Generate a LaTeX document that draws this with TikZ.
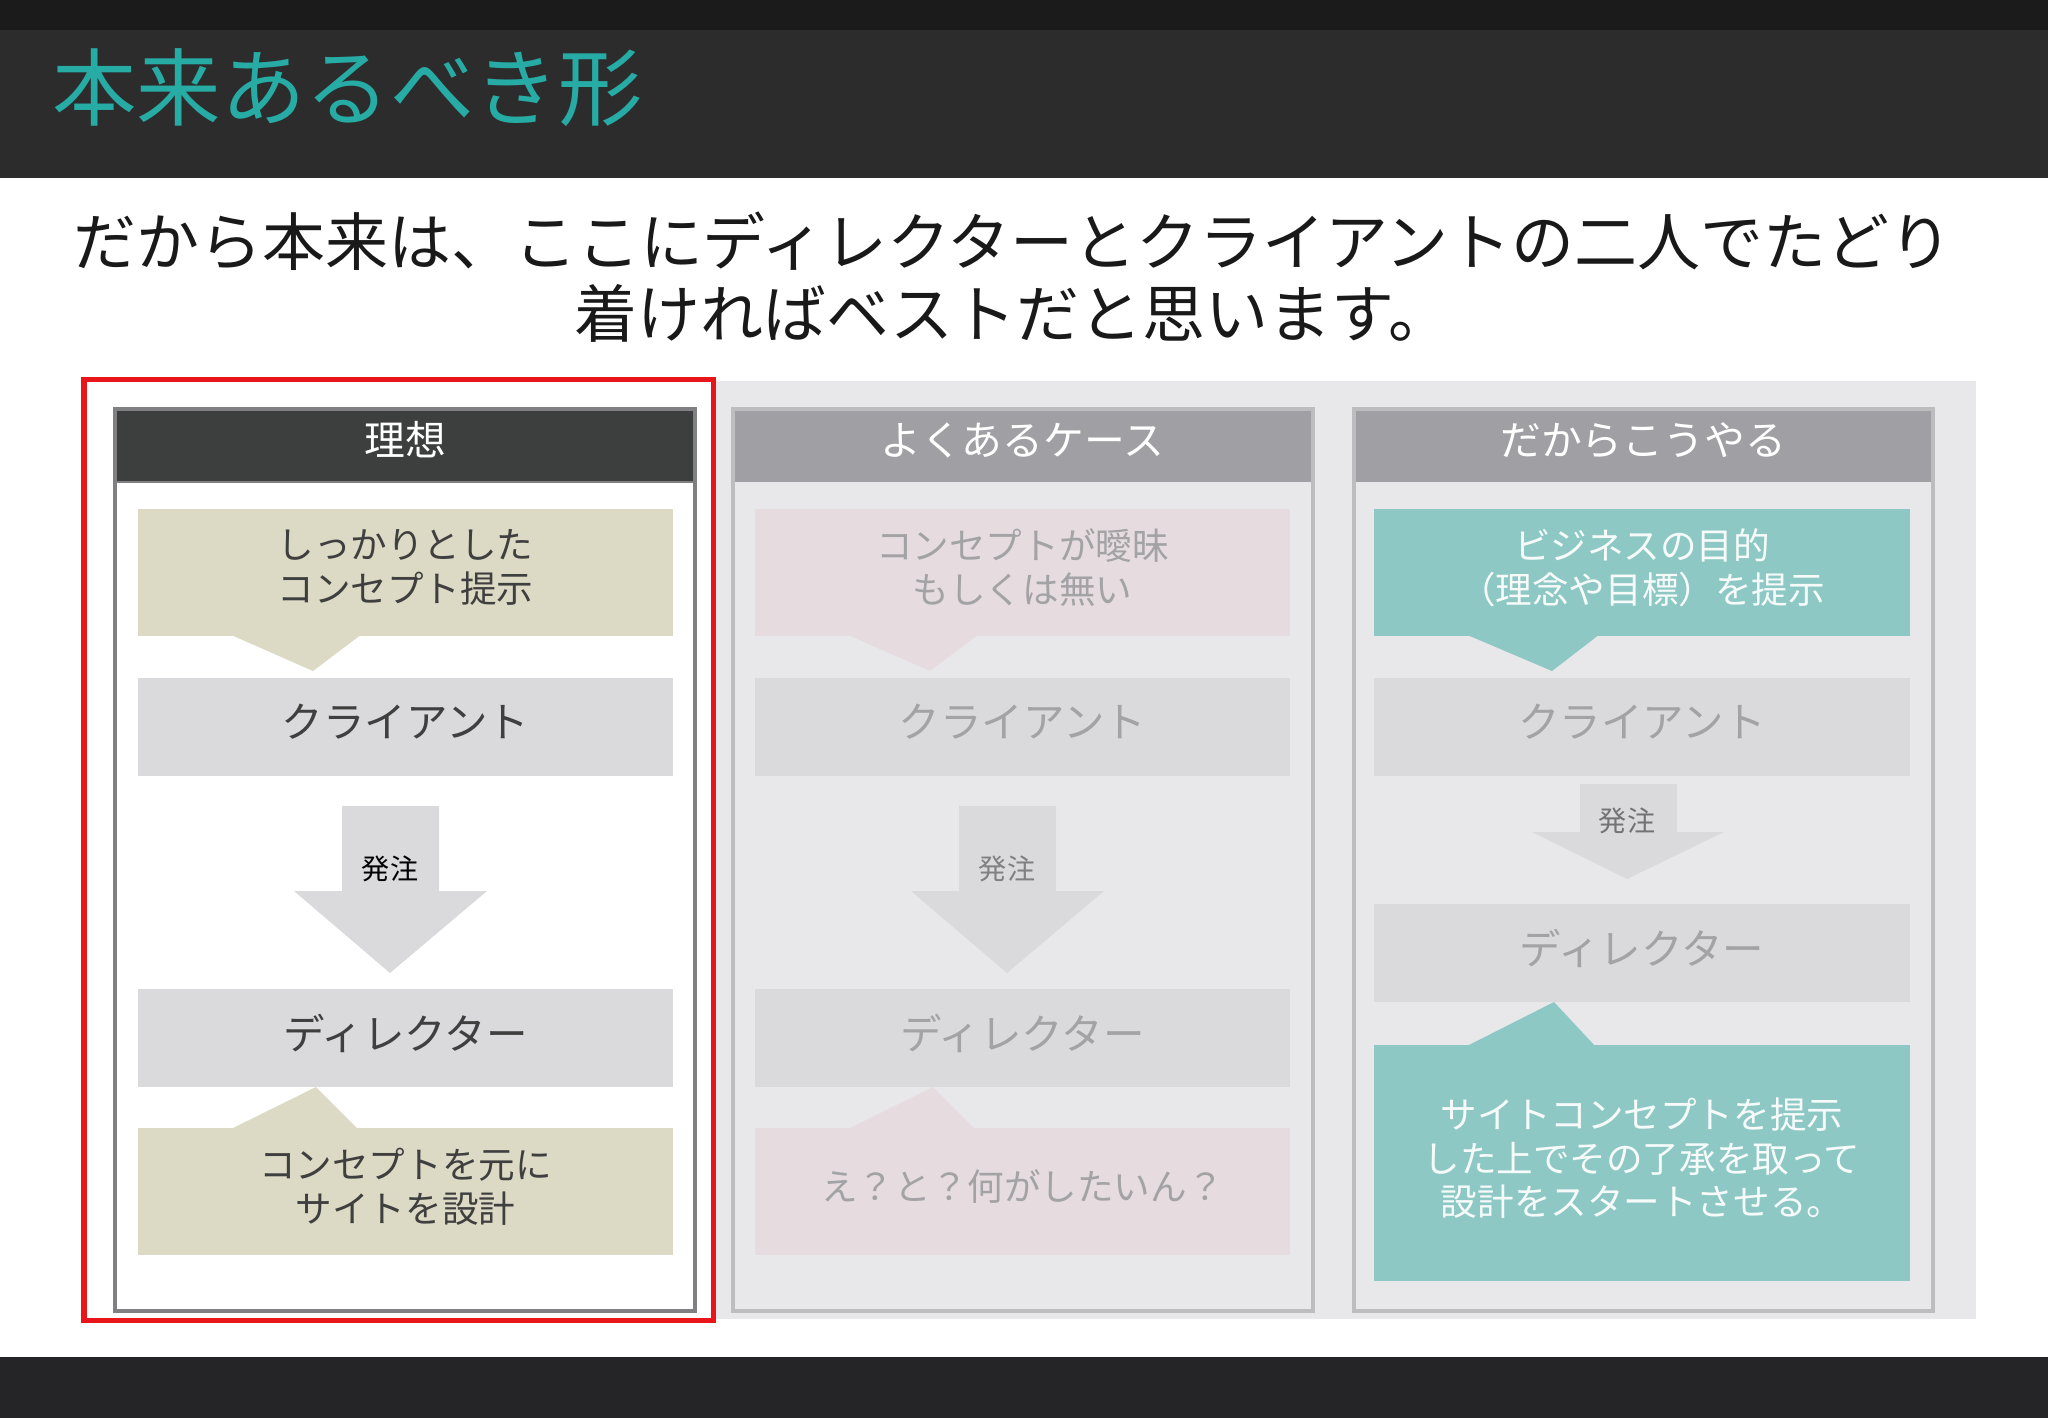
\documentclass[tikz,border=0pt]{standalone}
\usepackage{fontspec}
\setmainfont{Noto Sans CJK JP}
\definecolor{topbar}{HTML}{1B1B1C}
\definecolor{titleband}{HTML}{2C2C2D}
\definecolor{titleteal}{HTML}{27ABA5}
\definecolor{footband}{HTML}{252427}
\definecolor{backgray}{HTML}{E8E7E9}
\definecolor{khaki}{HTML}{DCDAC5}
\definecolor{boxgray}{HTML}{DAD9DB}
\definecolor{headdark}{HTML}{3D3E3E}
\definecolor{framedark}{HTML}{808082}
\definecolor{headlight}{HTML}{A09FA3}
\definecolor{framelight}{HTML}{BDBCBF}
\definecolor{pinkfade}{HTML}{E6DCDF}
\definecolor{tealbox}{HTML}{8DC8C5}
\definecolor{textdark}{HTML}{3F3F3F}
\definecolor{textfade}{HTML}{A3A2A5}
\definecolor{markred}{HTML}{E8161B}
\begin{document}
\begin{tikzpicture}[x=0.01cm, y=-0.01cm,
    box/.style={minimum width=5.35cm, inner sep=0pt, align=center},
    boxtext/.style={font=\fontsize{10.4}{12.5}\selectfont, text depth=3.6pt},
    roletext/.style={font=\fontsize{11.8}{14}\selectfont, text depth=3.7pt},
    headtext/.style={font=\fontsize{11.6}{14}\selectfont, text=white},
    ordertext/.style={font=\fontsize{8}{10}\selectfont}]
        \useasboundingbox (0,0) rectangle (2048,1418);
        % slide background
        \fill[white] (0,0) rectangle (2048,1418);
        \fill[topbar] (0,0) rectangle (2048,30);
        \fill[titleband] (0,30) rectangle (2048,178);
        \fill[footband] (0,1357) rectangle (2048,1418);
        \node[anchor=west, text=titleteal, font=\fontsize{24}{28}\selectfont] (title) at (40,88) {本来あるべき形};
        \node[align=center, text=black!90, font=\fontsize{17.9}{20.3}\selectfont] (lead) at (1013,277) {だから本来は、ここにディレクターとクライアントの二人でたどり\\着ければベストだと思います。};
        \fill[backgray] (716,381) rectangle (1976,1319);
        \draw[markred, line width=0.05cm] (84,379) rectangle (713,1320);

        % panel 1
        \fill[white] (115,409) rectangle (695,1311);
        \fill[headdark] (115,409) rectangle (695,482);
        \draw[framedark, line width=0.04cm] (115,409) rectangle (695,1311);
        \draw[framedark, line width=0.02cm] (115,482) -- (695,482);
        \node[headtext] (headA) at (405,440) {理想};
        \node[box, fill=khaki, minimum height=1.27cm, text=textdark, boxtext] (conceptA) at (405.5,572.5) {しっかりとした\\コンセプト提示};
        \fill[khaki] (229,634) -- (313,671) -- (362,634) -- cycle;
        \node[box, fill=boxgray, minimum height=0.98cm, text=textdark, roletext] (clientA) at (405.5,727) {クライアント};
        \fill[boxgray] (342,806) -- (439,806) -- (439,891) -- (487,891) -- (390,973) -- (294,891) -- (342,891) -- cycle;
        \node[ordertext, text=black] (orderA) at (390,869) {発注};
        \node[box, fill=boxgray, minimum height=0.98cm, text=textdark, roletext] (directorA) at (405.5,1038) {ディレクター};
        \fill[khaki] (229,1130) -- (316,1087) -- (359,1130) -- cycle;
        \node[box, fill=khaki, minimum height=1.27cm, text=textdark, boxtext] (designA) at (405.5,1191.5) {コンセプトを元に\\サイトを設計};

        % panel 2
        \fill[backgray] (733,409) rectangle (1313,1311);
        \fill[headlight] (733,409) rectangle (1313,482);
        \draw[framelight, line width=0.04cm] (733,409) rectangle (1313,1311);
        \node[headtext] (headB) at (1022,440) {よくあるケース};
        \node[box, fill=pinkfade, minimum height=1.27cm, text=textfade, boxtext] (conceptB) at (1022.5,572.5) {コンセプトが曖昧\\もしくは無い};
        \fill[pinkfade] (846,634) -- (930,671) -- (979,634) -- cycle;
        \node[box, fill=boxgray, minimum height=0.98cm, text=textfade, roletext] (clientB) at (1022.5,727) {クライアント};
        \fill[boxgray] (959,806) -- (1056,806) -- (1056,891) -- (1104,891) -- (1007,973) -- (911,891) -- (959,891) -- cycle;
        \node[ordertext, text=black!50] (orderB) at (1007,869) {発注};
        \node[box, fill=boxgray, minimum height=0.98cm, text=textfade, roletext] (directorB) at (1022.5,1038) {ディレクター};
        \fill[pinkfade] (846,1130) -- (933,1087) -- (976,1130) -- cycle;
        \node[box, fill=pinkfade, minimum height=1.27cm, text=textfade, boxtext] (designB) at (1022.5,1191.5) {え？と？何がしたいん？};

        % panel 3
        \fill[backgray] (1354,409) rectangle (1933,1311);
        \fill[headlight] (1354,409) rectangle (1933,482);
        \draw[framelight, line width=0.04cm] (1354,409) rectangle (1933,1311);
        \node[headtext] (headC) at (1643,440) {だからこうやる};
        \node[box, fill=tealbox, minimum height=1.27cm, text=white!92!tealbox, boxtext] (goalC) at (1642,572.5) {ビジネスの目的\\（理念や目標）を提示};
        \fill[tealbox] (1465,634) -- (1552,671) -- (1600,634) -- cycle;
        \node[box, fill=boxgray, minimum height=0.98cm, text=textfade, roletext] (clientC) at (1642,727) {クライアント};
        \fill[boxgray] (1580,784) -- (1677,784) -- (1677,832) -- (1724,832) -- (1627,879) -- (1532,832) -- (1580,832) -- cycle;
        \node[ordertext, text=black!55] (orderC) at (1627,821) {発注};
        \node[box, fill=boxgray, minimum height=0.98cm, text=textfade, roletext] (directorC) at (1642,953) {ディレクター};
        \fill[tealbox] (1465,1047) -- (1554,1002) -- (1596,1047) -- cycle;
        \node[box, fill=tealbox, minimum height=2.36cm, text=white!92!tealbox, boxtext] (startC) at (1642,1163) {サイトコンセプトを提示\\した上でその了承を取って\\設計をスタートさせる。};
\end{tikzpicture}
\end{document}
